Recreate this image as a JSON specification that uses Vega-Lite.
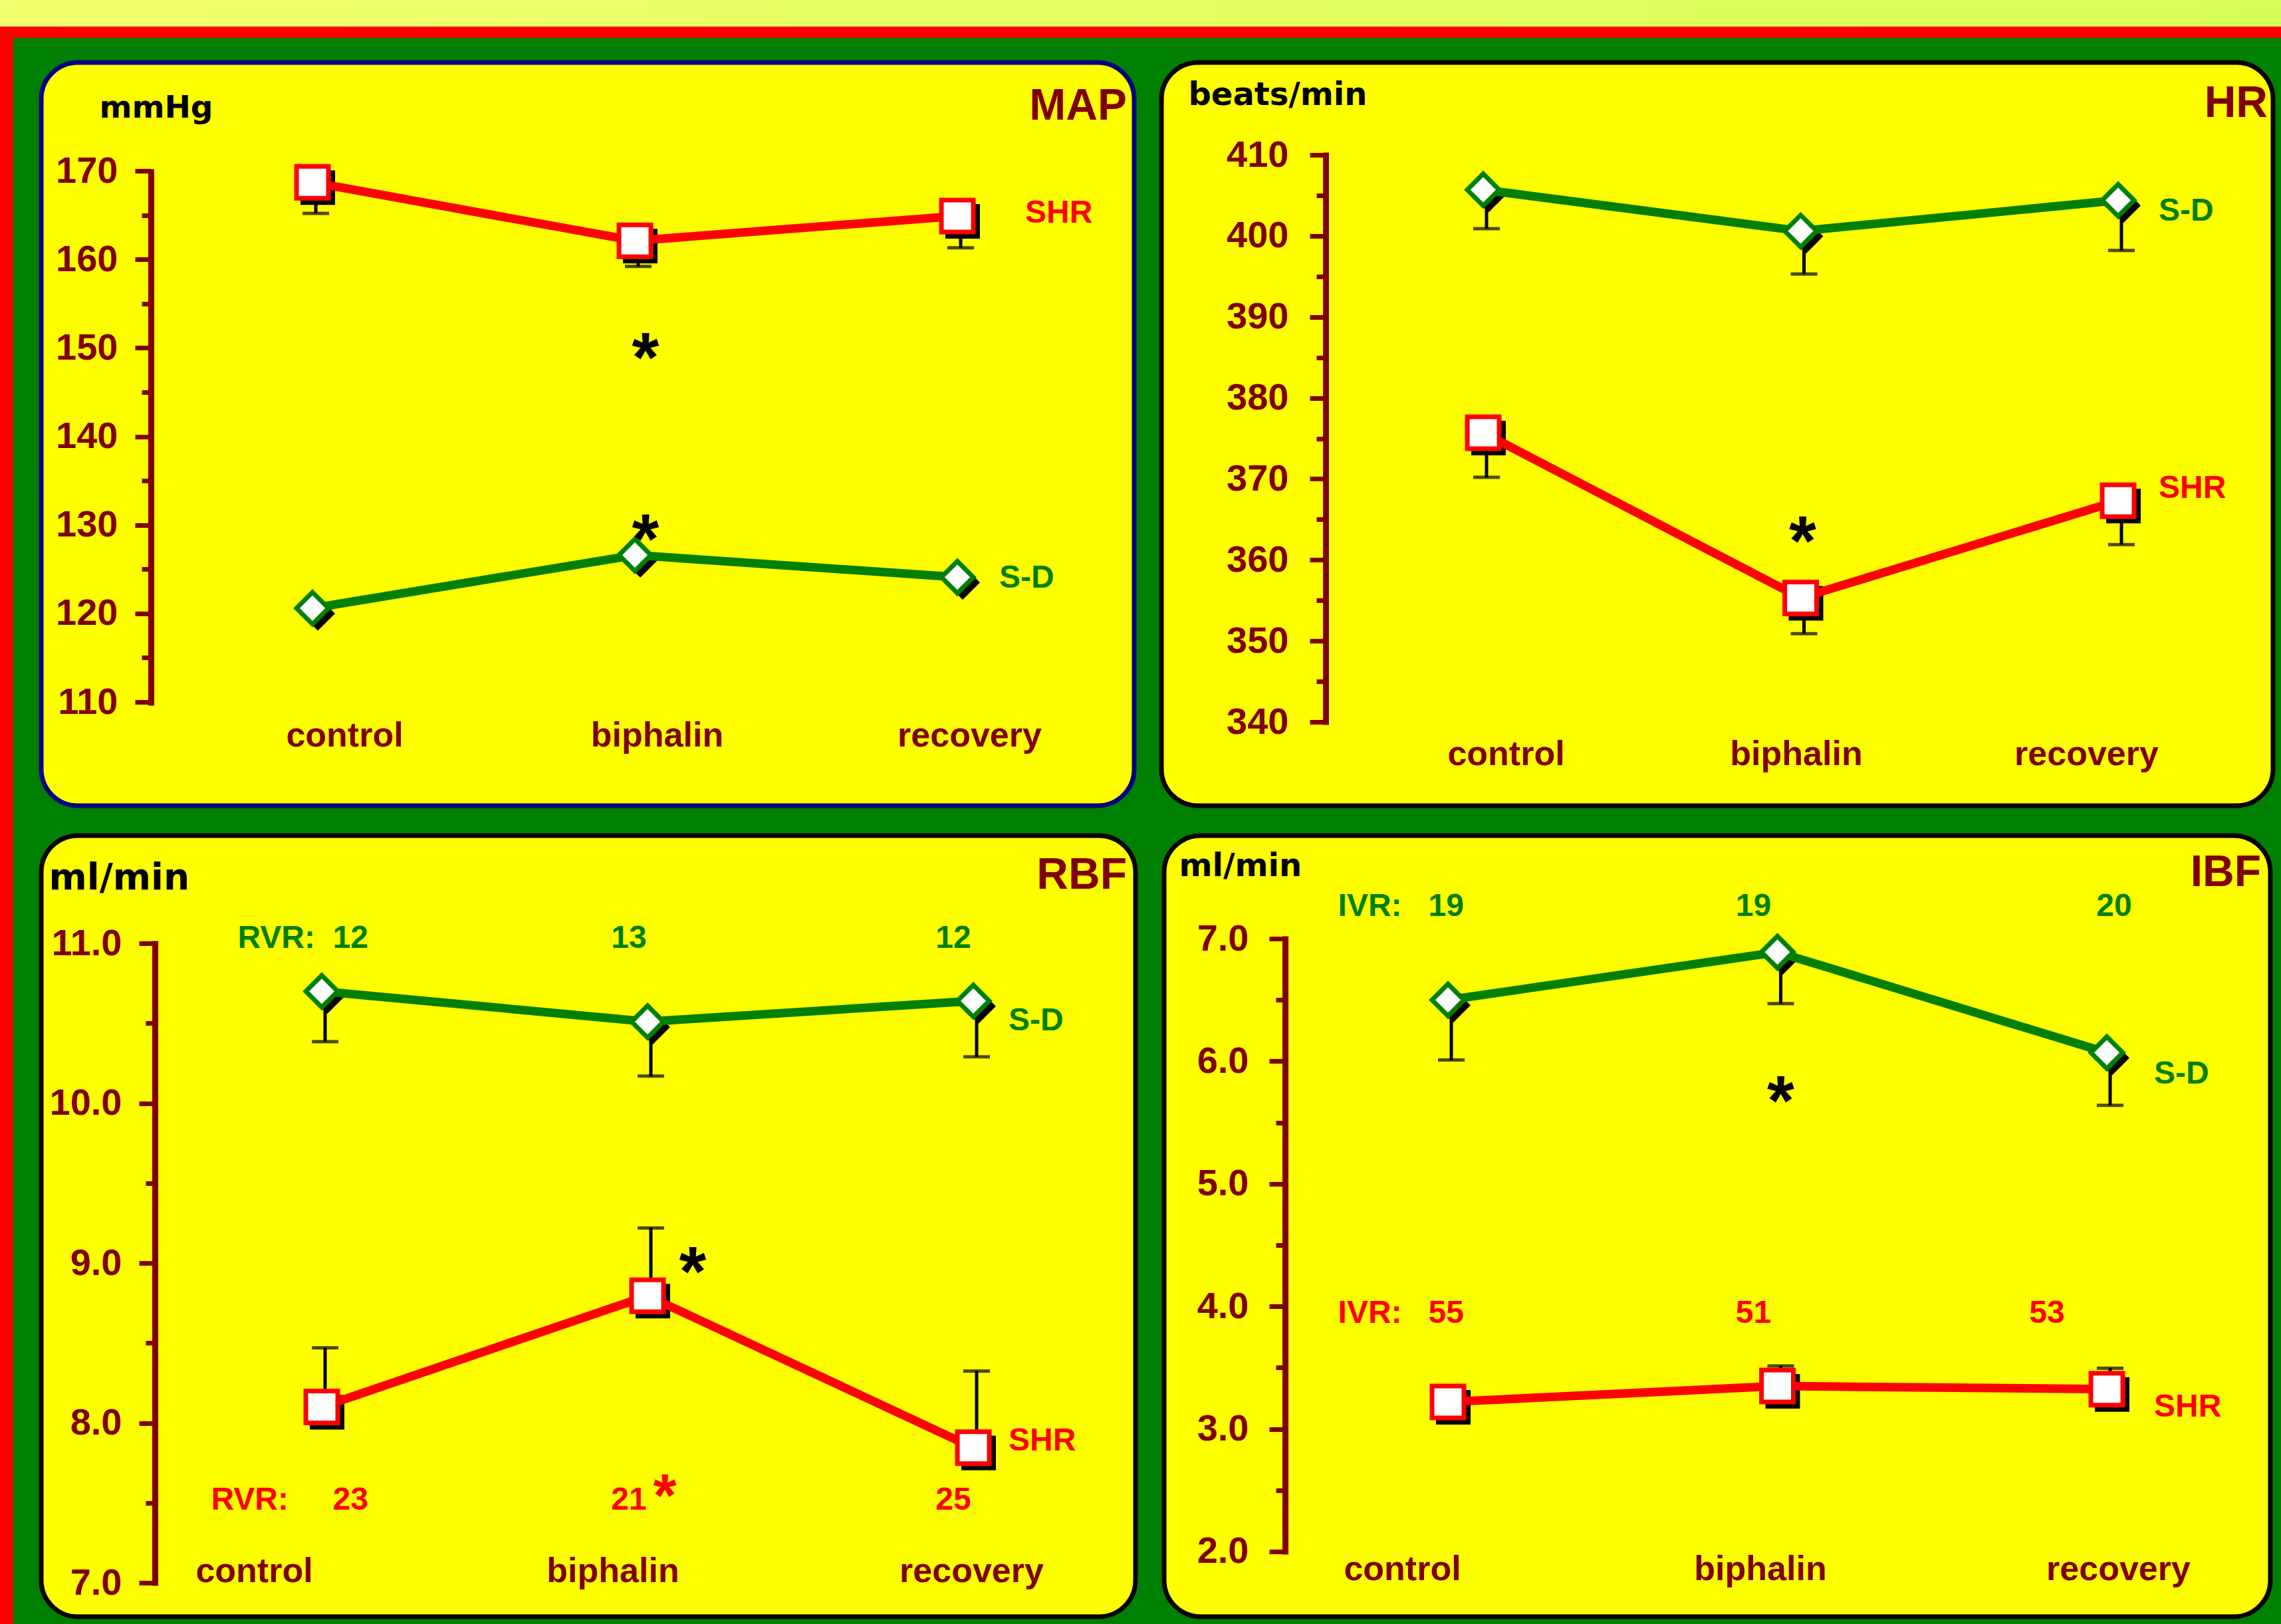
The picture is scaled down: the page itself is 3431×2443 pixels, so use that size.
{
  "$schema": "https://vega.github.io/schema/vega-lite/v6.json",
  "background": "#008000",
  "padding": 0,
  "spacing": 0,
  "config": {"view": {"stroke": null}, "axis": {"grid": false, "labelLimit": 0}, "font": "Liberation Sans"},
  "datasets": {
    "points": [
      {"panel": "MAP", "series": "SHR", "cat": "control", "value": 168.7, "err": 165.2},
      {"panel": "MAP", "series": "SHR", "cat": "biphalin", "value": 162.1, "err": 159.2},
      {"panel": "MAP", "series": "SHR", "cat": "recovery", "value": 164.9, "err": 161.3},
      {"panel": "MAP", "series": "S-D", "cat": "control", "value": 120.6, "err": null},
      {"panel": "MAP", "series": "S-D", "cat": "biphalin", "value": 126.6, "err": null},
      {"panel": "MAP", "series": "S-D", "cat": "recovery", "value": 124.1, "err": null},
      {"panel": "HR", "series": "S-D", "cat": "control", "value": 405.7, "err": 400.9},
      {"panel": "HR", "series": "S-D", "cat": "biphalin", "value": 400.6, "err": 395.3},
      {"panel": "HR", "series": "S-D", "cat": "recovery", "value": 404.4, "err": 398.2},
      {"panel": "HR", "series": "SHR", "cat": "control", "value": 375.7, "err": 370.2},
      {"panel": "HR", "series": "SHR", "cat": "biphalin", "value": 355.3, "err": 350.9},
      {"panel": "HR", "series": "SHR", "cat": "recovery", "value": 367.3, "err": 361.9},
      {"panel": "RBF", "series": "S-D", "cat": "control", "value": 10.70, "err": 10.385},
      {"panel": "RBF", "series": "S-D", "cat": "biphalin", "value": 10.51, "err": 10.17},
      {"panel": "RBF", "series": "S-D", "cat": "recovery", "value": 10.64, "err": 10.29},
      {"panel": "RBF", "series": "SHR", "cat": "control", "value": 8.10, "err": 8.47},
      {"panel": "RBF", "series": "SHR", "cat": "biphalin", "value": 8.795, "err": 9.22},
      {"panel": "RBF", "series": "SHR", "cat": "recovery", "value": 7.845, "err": 8.325},
      {"panel": "IBF", "series": "S-D", "cat": "control", "value": 6.50, "err": 6.01},
      {"panel": "IBF", "series": "S-D", "cat": "biphalin", "value": 6.89, "err": 6.47},
      {"panel": "IBF", "series": "S-D", "cat": "recovery", "value": 6.07, "err": 5.64},
      {"panel": "IBF", "series": "SHR", "cat": "control", "value": 3.22, "err": null},
      {"panel": "IBF", "series": "SHR", "cat": "biphalin", "value": 3.35, "err": 3.515},
      {"panel": "IBF", "series": "SHR", "cat": "recovery", "value": 3.325, "err": 3.495}
    ],
    "notes": [
      {"panel": "MAP", "kind": "title", "series": "none", "cat": "recovery", "value": 175.78, "text": "MAP"},
      {"panel": "HR", "kind": "title", "series": "none", "cat": "recovery", "value": 414.68, "text": "HR"},
      {"panel": "RBF", "kind": "title", "series": "none", "cat": "recovery", "value": 11.341, "text": "RBF"},
      {"panel": "IBF", "kind": "title", "series": "none", "cat": "recovery", "value": 7.4285, "text": "IBF"},
      {"panel": "MAP", "kind": "star", "series": "SHR", "cat": "biphalin", "value": 150.6, "text": "*"},
      {"panel": "MAP", "kind": "star", "series": "S-D", "cat": "biphalin", "value": 130.1, "text": "*"},
      {"panel": "HR", "kind": "star", "series": "SHR", "cat": "biphalin", "value": 364.2, "text": "*"},
      {"panel": "RBF", "kind": "star", "series": "SHR", "cat": "biphalin", "value": 9.04, "text": "*"},
      {"panel": "IBF", "kind": "star", "series": "S-D", "cat": "biphalin", "value": 5.80, "text": "*"},
      {"panel": "MAP", "kind": "label", "series": "SHR", "cat": "recovery", "value": 165.2, "text": "SHR"},
      {"panel": "MAP", "kind": "label", "series": "S-D", "cat": "recovery", "value": 124.0, "text": "S-D"},
      {"panel": "HR", "kind": "label", "series": "S-D", "cat": "recovery", "value": 403.0, "text": "S-D"},
      {"panel": "HR", "kind": "label", "series": "SHR", "cat": "recovery", "value": 368.8, "text": "SHR"},
      {"panel": "RBF", "kind": "label", "series": "SHR", "cat": "recovery", "value": 7.887, "text": "SHR"},
      {"panel": "RBF", "kind": "label", "series": "S-D", "cat": "recovery", "value": 10.514, "text": "S-D"},
      {"panel": "IBF", "kind": "label", "series": "SHR", "cat": "recovery", "value": 3.177, "text": "SHR"},
      {"panel": "IBF", "kind": "label", "series": "S-D", "cat": "recovery", "value": 5.894, "text": "S-D"},
      {"panel": "RBF", "kind": "ann", "series": "S-D", "cat": "control", "value": 11.03, "text": "RVR:\u00a0\u00a012"},
      {"panel": "RBF", "kind": "ann", "series": "S-D", "cat": "biphalin", "value": 11.03, "text": "13"},
      {"panel": "RBF", "kind": "ann", "series": "S-D", "cat": "recovery", "value": 11.03, "text": "12"},
      {"panel": "RBF", "kind": "ann", "series": "SHR", "cat": "control", "value": 7.515, "text": "RVR:\u00a0\u00a0\u00a0\u00a0\u00a023"},
      {"panel": "RBF", "kind": "ann", "series": "SHR", "cat": "biphalin", "value": 7.515, "text": "21"},
      {"panel": "RBF", "kind": "ann", "series": "SHR", "cat": "recovery", "value": 7.515, "text": "25"},
      {"panel": "RBF", "kind": "sup", "series": "SHR", "cat": "biphalin", "value": 7.625, "text": "*"},
      {"panel": "IBF", "kind": "ann", "series": "S-D", "cat": "control", "value": 7.26, "text": "IVR:\u00a0\u00a0\u00a019"},
      {"panel": "IBF", "kind": "ann", "series": "S-D", "cat": "biphalin", "value": 7.26, "text": "19"},
      {"panel": "IBF", "kind": "ann", "series": "S-D", "cat": "recovery", "value": 7.26, "text": "20"},
      {"panel": "IBF", "kind": "ann", "series": "SHR", "cat": "control", "value": 3.94, "text": "IVR:\u00a0\u00a0\u00a055"},
      {"panel": "IBF", "kind": "ann", "series": "SHR", "cat": "biphalin", "value": 3.94, "text": "51"},
      {"panel": "IBF", "kind": "ann", "series": "SHR", "cat": "recovery", "value": 3.94, "text": "53"}
    ]
  },
  "vconcat": [
    {"width": 3431, "height": 40, "data": {"values": [{}]}, "mark": {"type": "rect", "color": {"gradient": "linear", "x1": 0, "y1": 0, "x2": 1, "y2": 0, "stops": [{"offset": 0, "color": "#f2ff6c"}, {"offset": 1, "color": "#d6ff55"}]}}, "encoding": {}},
    {"width": 3431, "height": 17, "data": {"values": [{}]}, "mark": {"type": "rect", "color": "#ff0000"}, "encoding": {}},
    {
      "spacing": 38,
      "hconcat": [
        {"width": 20, "height": 2386, "data": {"values": [{}]}, "mark": {"type": "rect", "color": "#ff0000"}, "encoding": {}},
        {
          "spacing": 32,
          "vconcat": [
            {"width": 10, "height": 1, "data": {"values": []}, "mark": "point", "encoding": {}},
            {
              "spacing": 37,
              "vconcat": [
                {
                  "spacing": 33,
                  "hconcat": [
                    {
                      "width": 1644, "height": 1118,
                      "view": {"fill": "#ffff00", "stroke": "#000080", "strokeWidth": 7, "cornerRadius": 55},
                      "resolve": {"scale": {"x": "independent"}, "axis": {"y": "independent"}},
                      "layer": [
                        {
                          "data": {"name": "points"},
                          "transform": [{"filter": "datum.panel === 'MAP'"}],
                          "encoding": {
                            "x": {"field": "cat", "type": "ordinal", "sort": ["control", "biphalin", "recovery"], "scale": {"type": "point", "domain": ["control", "biphalin", "recovery"], "range": [408, 1378], "padding": 0}, "axis": null},
                            "y": {"field": "value", "type": "quantitative", "scale": {"domain": [98.29, 182.24], "nice": false, "zero": false}, "axis": null}
                          },
                          "layer": [
                            {"transform": [{"filter": "datum.err != null"}], "mark": {"type": "rule", "color": "#000000", "strokeWidth": 5, "xOffset": 5}, "encoding": {"y2": {"field": "err"}}},
                            {"transform": [{"filter": "datum.err != null"}], "mark": {"type": "tick", "color": "#000000", "size": 40, "thickness": 5, "xOffset": 5, "orient": "horizontal"}, "encoding": {"y": {"field": "err", "type": "quantitative", "axis": null}}},
                            {"mark": {"type": "point", "filled": true, "color": "#000000", "opacity": 1, "size": 2700, "xOffset": 8, "yOffset": 8}, "encoding": {"shape": {"field": "series", "type": "nominal", "scale": {"domain": ["SHR", "S-D"], "range": ["square", "diamond"]}, "legend": null}}},
                            {"mark": {"type": "line", "strokeWidth": 13}, "encoding": {"color": {"field": "series", "type": "nominal", "scale": {"domain": ["SHR", "S-D", "none"], "range": ["#ff0000", "#008000", "#800000"]}, "legend": null}}},
                            {"mark": {"type": "point", "filled": true, "fill": "#ffffff", "strokeWidth": 7, "opacity": 1, "size": 2304}, "encoding": {"shape": {"field": "series", "type": "nominal", "scale": {"domain": ["SHR", "S-D"], "range": ["square", "diamond"]}, "legend": null}, "stroke": {"field": "series", "type": "nominal", "scale": {"domain": ["SHR", "S-D"], "range": ["#ff0000", "#008000"]}, "legend": null}}},
                            {"data": {"name": "notes"}, "transform": [{"filter": "datum.panel === 'MAP' && datum.kind === 'title'"}], "mark": {"type": "text", "align": "right", "baseline": "alphabetic", "dx": 255, "fontSize": 66, "fontWeight": "bold", "color": "#800000"}, "encoding": {"text": {"field": "text"}}},
                            {"data": {"name": "notes"}, "transform": [{"filter": "datum.panel === 'MAP' && datum.kind === 'label' && datum.series === 'SHR'"}], "mark": {"type": "text", "align": "left", "baseline": "middle", "dx": 102, "fontSize": 48, "fontWeight": "bold"}, "encoding": {"text": {"field": "text"}, "color": {"field": "series", "type": "nominal", "legend": null}}},
                            {"data": {"name": "notes"}, "transform": [{"filter": "datum.panel === 'MAP' && datum.kind === 'label' && datum.series === 'S-D'"}], "mark": {"type": "text", "align": "left", "baseline": "middle", "dx": 63, "fontSize": 48, "fontWeight": "bold"}, "encoding": {"text": {"field": "text"}, "color": {"field": "series", "type": "nominal", "legend": null}}},
                            {"data": {"name": "notes"}, "transform": [{"filter": "datum.panel === 'MAP' && datum.kind === 'star'"}], "mark": {"type": "text", "align": "center", "baseline": "middle", "dx": 16, "dy": 27, "fontSize": 105, "fontWeight": "bold", "color": "#000000"}, "encoding": {"text": {"field": "text"}}}
                          ]
                        },
                        {
                          "data": {"name": "points"},
                          "transform": [{"filter": "datum.panel === 'MAP'"}],
                          "mark": {"type": "point", "opacity": 0},
                          "encoding": {
                            "x": {"field": "cat", "type": "ordinal", "scale": {"type": "point", "domain": ["control", "biphalin", "recovery"], "range": [456, 1396], "padding": 0},
                              "axis": {"orient": "bottom", "offset": -90, "title": null, "domain": false, "ticks": false, "tickSize": 0, "labelPadding": 0, "labelAngle": 0, "labelBaseline": "alphabetic", "labelAlign": "center", "labelFontSize": 52, "labelFontWeight": "bold", "labelColor": "#800000", "labelOverlap": false, "labelLimit": 0}},
                            "y": {"field": "value", "type": "quantitative", "scale": {"domain": [98.29, 182.24], "nice": false, "zero": false},
                              "axis": {"orient": "left", "title": "mmHg", "titleAngle": 0, "titleX": -78, "titleY": 82, "titleAlign": "left", "titleBaseline": "alphabetic", "titleFont": "DejaVu Sans", "titleFontSize": 47, "titleFontWeight": "bold", "titleColor": "#000000",
                                "offset": -165, "values": [110, 120, 130, 140, 150, 160, 170],
                                "labelFontSize": 56, "labelFontWeight": "bold", "labelColor": "#800000", "labelPadding": 26, "labelOverlap": false,
                                "domainColor": "#800000", "domainWidth": 9, "domainDash": [807, 5000], "domainDashOffset": 5656,
                                "tickColor": "#800000", "tickWidth": 7, "tickSize": 24, "grid": false}}
                          }
                        },
                        {
                          "data": {"name": "points"},
                          "transform": [{"filter": "datum.panel === 'MAP'"}],
                          "mark": {"type": "point", "opacity": 0},
                          "encoding": {
                            "y": {"field": "value", "type": "quantitative", "scale": {"domain": [98.29, 182.24], "nice": false, "zero": false},
                              "axis": {"orient": "left", "offset": -165, "values": [115, 125, 135, 145, 155, 165], "labels": false, "domain": false, "title": null, "tickColor": "#800000", "tickWidth": 7, "tickSize": 14, "grid": false}}
                          }
                        }
                      ]
                    },
                    {
                      "width": 1672, "height": 1118,
                      "view": {"fill": "#ffff00", "stroke": "#000000", "strokeWidth": 7, "cornerRadius": 55},
                      "resolve": {"scale": {"x": "independent"}, "axis": {"y": "independent"}},
                      "layer": [
                        {
                          "data": {"name": "points"},
                          "transform": [{"filter": "datum.panel === 'HR'"}],
                          "encoding": {
                            "x": {"field": "cat", "type": "ordinal", "sort": ["control", "biphalin", "recovery"], "scale": {"type": "point", "domain": ["control", "biphalin", "recovery"], "range": [484, 1439], "padding": 0}, "axis": null},
                            "y": {"field": "value", "type": "quantitative", "scale": {"domain": [329.66, 421.41], "nice": false, "zero": false}, "axis": null}
                          },
                          "layer": [
                            {"transform": [{"filter": "datum.err != null"}], "mark": {"type": "rule", "color": "#000000", "strokeWidth": 5, "xOffset": 5}, "encoding": {"y2": {"field": "err"}}},
                            {"transform": [{"filter": "datum.err != null"}], "mark": {"type": "tick", "color": "#000000", "size": 40, "thickness": 5, "xOffset": 5, "orient": "horizontal"}, "encoding": {"y": {"field": "err", "type": "quantitative", "axis": null}}},
                            {"mark": {"type": "point", "filled": true, "color": "#000000", "opacity": 1, "size": 2700, "xOffset": 8, "yOffset": 8}, "encoding": {"shape": {"field": "series", "type": "nominal", "scale": {"domain": ["SHR", "S-D"], "range": ["square", "diamond"]}, "legend": null}}},
                            {"mark": {"type": "line", "strokeWidth": 13}, "encoding": {"color": {"field": "series", "type": "nominal", "scale": {"domain": ["SHR", "S-D", "none"], "range": ["#ff0000", "#008000", "#800000"]}, "legend": null}}},
                            {"mark": {"type": "point", "filled": true, "fill": "#ffffff", "strokeWidth": 7, "opacity": 1, "size": 2304}, "encoding": {"shape": {"field": "series", "type": "nominal", "scale": {"domain": ["SHR", "S-D"], "range": ["square", "diamond"]}, "legend": null}, "stroke": {"field": "series", "type": "nominal", "scale": {"domain": ["SHR", "S-D"], "range": ["#ff0000", "#008000"]}, "legend": null}}},
                            {"data": {"name": "notes"}, "transform": [{"filter": "datum.panel === 'HR' && datum.kind === 'title'"}], "mark": {"type": "text", "align": "right", "baseline": "alphabetic", "dx": 225, "fontSize": 66, "fontWeight": "bold", "color": "#800000"}, "encoding": {"text": {"field": "text"}}},
                            {"data": {"name": "notes"}, "transform": [{"filter": "datum.panel === 'HR' && datum.kind === 'label'"}], "mark": {"type": "text", "align": "left", "baseline": "middle", "dx": 61, "fontSize": 48, "fontWeight": "bold"}, "encoding": {"text": {"field": "text"}, "color": {"field": "series", "type": "nominal", "legend": null}}},
                            {"data": {"name": "notes"}, "transform": [{"filter": "datum.panel === 'HR' && datum.kind === 'star'"}], "mark": {"type": "text", "align": "center", "baseline": "middle", "dx": 3, "dy": 27, "fontSize": 105, "fontWeight": "bold", "color": "#000000"}, "encoding": {"text": {"field": "text"}}}
                          ]
                        },
                        {
                          "data": {"name": "points"},
                          "transform": [{"filter": "datum.panel === 'HR'"}],
                          "mark": {"type": "point", "opacity": 0},
                          "encoding": {
                            "x": {"field": "cat", "type": "ordinal", "scale": {"type": "point", "domain": ["control", "biphalin", "recovery"], "range": [518, 1391], "padding": 0},
                              "axis": {"orient": "bottom", "offset": -62, "title": null, "domain": false, "ticks": false, "tickSize": 0, "labelPadding": 0, "labelAngle": 0, "labelBaseline": "alphabetic", "labelAlign": "center", "labelFontSize": 52, "labelFontWeight": "bold", "labelColor": "#800000", "labelOverlap": false, "labelLimit": 0}},
                            "y": {"field": "value", "type": "quantitative", "scale": {"domain": [329.66, 421.41], "nice": false, "zero": false},
                              "axis": {"orient": "left", "title": "beats/min", "titleAngle": 0, "titleX": -207, "titleY": 63, "titleAlign": "left", "titleBaseline": "alphabetic", "titleFont": "DejaVu Sans", "titleFontSize": 48, "titleFontWeight": "bold", "titleColor": "#000000",
                                "offset": -247, "values": [340, 350, 360, 370, 380, 390, 400, 410],
                                "labelFontSize": 56, "labelFontWeight": "bold", "labelColor": "#800000", "labelPadding": 32, "labelOverlap": false,
                                "domainColor": "#800000", "domainWidth": 9, "domainDash": [861, 5000], "domainDashOffset": 5739,
                                "tickColor": "#800000", "tickWidth": 7, "tickSize": 24, "grid": false}}
                          }
                        },
                        {
                          "data": {"name": "points"},
                          "transform": [{"filter": "datum.panel === 'HR'"}],
                          "mark": {"type": "point", "opacity": 0},
                          "encoding": {
                            "y": {"field": "value", "type": "quantitative", "scale": {"domain": [329.66, 421.41], "nice": false, "zero": false},
                              "axis": {"orient": "left", "offset": -247, "values": [345, 355, 365, 375, 385, 395, 405], "labels": false, "domain": false, "title": null, "tickColor": "#800000", "tickWidth": 7, "tickSize": 14, "grid": false}}
                          }
                        }
                      ]
                    }
                  ]
                },
                {
                  "spacing": 35,
                  "hconcat": [
                    {
                      "width": 1646, "height": 1175,
                      "view": {"fill": "#ffff00", "stroke": "#000000", "strokeWidth": 7, "cornerRadius": 55},
                      "resolve": {"scale": {"x": "independent"}, "axis": {"y": "independent"}},
                      "layer": [
                        {
                          "data": {"name": "points"},
                          "transform": [{"filter": "datum.panel === 'RBF'"}],
                          "encoding": {
                            "x": {"field": "cat", "type": "ordinal", "sort": ["control", "biphalin", "recovery"], "scale": {"type": "point", "domain": ["control", "biphalin", "recovery"], "range": [422, 1402], "padding": 0}, "axis": null},
                            "y": {"field": "value", "type": "quantitative", "scale": {"domain": [6.788, 11.674], "nice": false, "zero": false}, "axis": null}
                          },
                          "layer": [
                            {"transform": [{"filter": "datum.err != null"}], "mark": {"type": "rule", "color": "#000000", "strokeWidth": 5, "xOffset": 5}, "encoding": {"y2": {"field": "err"}}},
                            {"transform": [{"filter": "datum.err != null"}], "mark": {"type": "tick", "color": "#000000", "size": 40, "thickness": 5, "xOffset": 5, "orient": "horizontal"}, "encoding": {"y": {"field": "err", "type": "quantitative", "axis": null}}},
                            {"mark": {"type": "point", "filled": true, "color": "#000000", "opacity": 1, "size": 2700, "xOffset": 8, "yOffset": 8}, "encoding": {"shape": {"field": "series", "type": "nominal", "scale": {"domain": ["SHR", "S-D"], "range": ["square", "diamond"]}, "legend": null}}},
                            {"mark": {"type": "line", "strokeWidth": 13}, "encoding": {"color": {"field": "series", "type": "nominal", "scale": {"domain": ["SHR", "S-D", "none"], "range": ["#ff0000", "#008000", "#800000"]}, "legend": null}}},
                            {"mark": {"type": "point", "filled": true, "fill": "#ffffff", "strokeWidth": 7, "opacity": 1, "size": 2304}, "encoding": {"shape": {"field": "series", "type": "nominal", "scale": {"domain": ["SHR", "S-D"], "range": ["square", "diamond"]}, "legend": null}, "stroke": {"field": "series", "type": "nominal", "scale": {"domain": ["SHR", "S-D"], "range": ["#ff0000", "#008000"]}, "legend": null}}},
                            {"data": {"name": "notes"}, "transform": [{"filter": "datum.panel === 'RBF' && datum.kind === 'title'"}], "mark": {"type": "text", "align": "right", "baseline": "alphabetic", "dx": 231, "fontSize": 66, "fontWeight": "bold", "color": "#800000"}, "encoding": {"text": {"field": "text"}}},
                            {"data": {"name": "notes"}, "transform": [{"filter": "datum.panel === 'RBF' && datum.kind === 'label'"}], "mark": {"type": "text", "align": "left", "baseline": "middle", "dx": 53, "fontSize": 48, "fontWeight": "bold"}, "encoding": {"text": {"field": "text"}, "color": {"field": "series", "type": "nominal", "legend": null}}},
                            {"data": {"name": "notes"}, "transform": [{"filter": "datum.panel === 'RBF' && datum.kind === 'star'"}], "mark": {"type": "text", "align": "center", "baseline": "middle", "dx": 68, "dy": 27, "fontSize": 105, "fontWeight": "bold", "color": "#000000"}, "encoding": {"text": {"field": "text"}}},
                            {"data": {"name": "notes"}, "transform": [{"filter": "datum.panel === 'RBF' && datum.kind === 'ann' && datum.cat === 'control'"}], "mark": {"type": "text", "align": "right", "baseline": "middle", "dx": 70, "fontSize": 48, "fontWeight": "bold"}, "encoding": {"text": {"field": "text"}, "color": {"field": "series", "type": "nominal", "legend": null}}},
                            {"data": {"name": "notes"}, "transform": [{"filter": "datum.panel === 'RBF' && datum.kind === 'ann' && datum.cat === 'biphalin'"}], "mark": {"type": "text", "align": "center", "baseline": "middle", "dx": -28, "fontSize": 48, "fontWeight": "bold"}, "encoding": {"text": {"field": "text"}, "color": {"field": "series", "type": "nominal", "legend": null}}},
                            {"data": {"name": "notes"}, "transform": [{"filter": "datum.panel === 'RBF' && datum.kind === 'ann' && datum.cat === 'recovery'"}], "mark": {"type": "text", "align": "center", "baseline": "middle", "dx": -30, "fontSize": 48, "fontWeight": "bold"}, "encoding": {"text": {"field": "text"}, "color": {"field": "series", "type": "nominal", "legend": null}}},
                            {"data": {"name": "notes"}, "transform": [{"filter": "datum.panel === 'RBF' && datum.kind === 'sup'"}], "mark": {"type": "text", "align": "center", "baseline": "middle", "dx": 26, "dy": 23, "fontSize": 90, "fontWeight": "bold"}, "encoding": {"text": {"field": "text"}, "color": {"field": "series", "type": "nominal", "legend": null}}}
                          ]
                        },
                        {
                          "data": {"name": "points"},
                          "transform": [{"filter": "datum.panel === 'RBF'"}],
                          "mark": {"type": "point", "opacity": 0},
                          "encoding": {
                            "x": {"field": "cat", "type": "ordinal", "scale": {"type": "point", "domain": ["control", "biphalin", "recovery"], "range": [320, 1399], "padding": 0},
                              "axis": {"orient": "bottom", "offset": -53, "title": null, "domain": false, "ticks": false, "tickSize": 0, "labelPadding": 0, "labelAngle": 0, "labelBaseline": "alphabetic", "labelAlign": "center", "labelFontSize": 52, "labelFontWeight": "bold", "labelColor": "#800000", "labelOverlap": false, "labelLimit": 0}},
                            "y": {"field": "value", "type": "quantitative", "scale": {"domain": [6.788, 11.674], "nice": false, "zero": false},
                              "axis": {"orient": "left", "title": "ml/min", "titleAngle": 0, "titleX": -160, "titleY": 80, "titleAlign": "left", "titleBaseline": "alphabetic", "titleFont": "DejaVu Sans", "titleFontSize": 55, "titleFontWeight": "bold", "titleColor": "#000000",
                                "offset": -171, "values": [7, 8, 9, 10, 11], "format": ".1f",
                                "labelFontSize": 56, "labelFontWeight": "bold", "labelColor": "#800000", "labelPadding": 26, "labelOverlap": false,
                                "domainColor": "#800000", "domainWidth": 9, "domainDash": [970, 5000], "domainDashOffset": 5923,
                                "tickColor": "#800000", "tickWidth": 7, "tickSize": 24, "grid": false}}
                          }
                        },
                        {
                          "data": {"name": "points"},
                          "transform": [{"filter": "datum.panel === 'RBF'"}],
                          "mark": {"type": "point", "opacity": 0},
                          "encoding": {
                            "y": {"field": "value", "type": "quantitative", "scale": {"domain": [6.788, 11.674], "nice": false, "zero": false},
                              "axis": {"orient": "left", "offset": -171, "values": [7.5, 8.5, 9.5, 10.5], "labels": false, "domain": false, "title": null, "tickColor": "#800000", "tickWidth": 7, "tickSize": 14, "grid": false}}
                          }
                        }
                      ]
                    },
                    {
                      "width": 1664, "height": 1175,
                      "view": {"fill": "#ffff00", "stroke": "#000000", "strokeWidth": 7, "cornerRadius": 55},
                      "resolve": {"scale": {"x": "independent"}, "axis": {"y": "independent"}},
                      "layer": [
                        {
                          "data": {"name": "points"},
                          "transform": [{"filter": "datum.panel === 'IBF'"}],
                          "encoding": {
                            "x": {"field": "cat", "type": "ordinal", "sort": ["control", "biphalin", "recovery"], "scale": {"type": "point", "domain": ["control", "biphalin", "recovery"], "range": [427, 1418], "padding": 0}, "axis": null},
                            "y": {"field": "value", "type": "quantitative", "scale": {"domain": [1.4685, 7.8406], "nice": false, "zero": false}, "axis": null}
                          },
                          "layer": [
                            {"transform": [{"filter": "datum.err != null"}], "mark": {"type": "rule", "color": "#000000", "strokeWidth": 5, "xOffset": 5}, "encoding": {"y2": {"field": "err"}}},
                            {"transform": [{"filter": "datum.err != null"}], "mark": {"type": "tick", "color": "#000000", "size": 40, "thickness": 5, "xOffset": 5, "orient": "horizontal"}, "encoding": {"y": {"field": "err", "type": "quantitative", "axis": null}}},
                            {"mark": {"type": "point", "filled": true, "color": "#000000", "opacity": 1, "size": 2700, "xOffset": 8, "yOffset": 8}, "encoding": {"shape": {"field": "series", "type": "nominal", "scale": {"domain": ["SHR", "S-D"], "range": ["square", "diamond"]}, "legend": null}}},
                            {"mark": {"type": "line", "strokeWidth": 13}, "encoding": {"color": {"field": "series", "type": "nominal", "scale": {"domain": ["SHR", "S-D", "none"], "range": ["#ff0000", "#008000", "#800000"]}, "legend": null}}},
                            {"mark": {"type": "point", "filled": true, "fill": "#ffffff", "strokeWidth": 7, "opacity": 1, "size": 2304}, "encoding": {"shape": {"field": "series", "type": "nominal", "scale": {"domain": ["SHR", "S-D"], "range": ["square", "diamond"]}, "legend": null}, "stroke": {"field": "series", "type": "nominal", "scale": {"domain": ["SHR", "S-D"], "range": ["#ff0000", "#008000"]}, "legend": null}}},
                            {"data": {"name": "notes"}, "transform": [{"filter": "datum.panel === 'IBF' && datum.kind === 'title'"}], "mark": {"type": "text", "align": "right", "baseline": "alphabetic", "dx": 232, "fontSize": 66, "fontWeight": "bold", "color": "#800000"}, "encoding": {"text": {"field": "text"}}},
                            {"data": {"name": "notes"}, "transform": [{"filter": "datum.panel === 'IBF' && datum.kind === 'label'"}], "mark": {"type": "text", "align": "left", "baseline": "middle", "dx": 71, "fontSize": 48, "fontWeight": "bold"}, "encoding": {"text": {"field": "text"}, "color": {"field": "series", "type": "nominal", "legend": null}}},
                            {"data": {"name": "notes"}, "transform": [{"filter": "datum.panel === 'IBF' && datum.kind === 'star'"}], "mark": {"type": "text", "align": "center", "baseline": "middle", "dx": 5, "dy": 27, "fontSize": 105, "fontWeight": "bold", "color": "#000000"}, "encoding": {"text": {"field": "text"}}},
                            {"data": {"name": "notes"}, "transform": [{"filter": "datum.panel === 'IBF' && datum.kind === 'ann' && datum.cat === 'control'"}], "mark": {"type": "text", "align": "right", "baseline": "middle", "dx": 24, "fontSize": 48, "fontWeight": "bold"}, "encoding": {"text": {"field": "text"}, "color": {"field": "series", "type": "nominal", "legend": null}}},
                            {"data": {"name": "notes"}, "transform": [{"filter": "datum.panel === 'IBF' && datum.kind === 'ann' && datum.cat === 'biphalin'"}], "mark": {"type": "text", "align": "center", "baseline": "middle", "dx": -36, "fontSize": 48, "fontWeight": "bold"}, "encoding": {"text": {"field": "text"}, "color": {"field": "series", "type": "nominal", "legend": null}}},
                            {"data": {"name": "notes"}, "transform": [{"filter": "datum.panel === 'IBF' && datum.kind === 'ann' && datum.cat === 'recovery' && datum.series === 'S-D'"}], "mark": {"type": "text", "align": "center", "baseline": "middle", "dx": 11, "fontSize": 48, "fontWeight": "bold"}, "encoding": {"text": {"field": "text"}, "color": {"field": "series", "type": "nominal", "legend": null}}},
                            {"data": {"name": "notes"}, "transform": [{"filter": "datum.panel === 'IBF' && datum.kind === 'ann' && datum.cat === 'recovery' && datum.series === 'SHR'"}], "mark": {"type": "text", "align": "center", "baseline": "middle", "dx": -90, "fontSize": 48, "fontWeight": "bold"}, "encoding": {"text": {"field": "text"}, "color": {"field": "series", "type": "nominal", "legend": null}}}
                          ]
                        },
                        {
                          "data": {"name": "points"},
                          "transform": [{"filter": "datum.panel === 'IBF'"}],
                          "mark": {"type": "point", "opacity": 0},
                          "encoding": {
                            "x": {"field": "cat", "type": "ordinal", "scale": {"type": "point", "domain": ["control", "biphalin", "recovery"], "range": [358, 1435], "padding": 0},
                              "axis": {"orient": "bottom", "offset": -56, "title": null, "domain": false, "ticks": false, "tickSize": 0, "labelPadding": 0, "labelAngle": 0, "labelBaseline": "alphabetic", "labelAlign": "center", "labelFontSize": 52, "labelFontWeight": "bold", "labelColor": "#800000", "labelOverlap": false, "labelLimit": 0}},
                            "y": {"field": "value", "type": "quantitative", "scale": {"domain": [1.4685, 7.8406], "nice": false, "zero": false},
                              "axis": {"orient": "left", "title": "ml/min", "titleAngle": 0, "titleX": -160, "titleY": 60, "titleAlign": "left", "titleBaseline": "alphabetic", "titleFont": "DejaVu Sans", "titleFontSize": 48, "titleFontWeight": "bold", "titleColor": "#000000",
                                "offset": -182, "values": [2, 3, 4, 5, 6, 7], "format": ".1f",
                                "labelFontSize": 56, "labelFontWeight": "bold", "labelColor": "#800000", "labelPadding": 31, "labelOverlap": false,
                                "domainColor": "#800000", "domainWidth": 9, "domainDash": [930, 5000], "domainDashOffset": 5836,
                                "tickColor": "#800000", "tickWidth": 7, "tickSize": 24, "grid": false}}
                          }
                        },
                        {
                          "data": {"name": "points"},
                          "transform": [{"filter": "datum.panel === 'IBF'"}],
                          "mark": {"type": "point", "opacity": 0},
                          "encoding": {
                            "y": {"field": "value", "type": "quantitative", "scale": {"domain": [1.4685, 7.8406], "nice": false, "zero": false},
                              "axis": {"orient": "left", "offset": -182, "values": [2.5, 3.5, 4.5, 5.5, 6.5], "labels": false, "domain": false, "title": null, "tickColor": "#800000", "tickWidth": 7, "tickSize": 14, "grid": false}}
                          }
                        }
                      ]
                    }
                  ]
                }
              ]
            }
          ]
        }
      ]
    }
  ]
}
